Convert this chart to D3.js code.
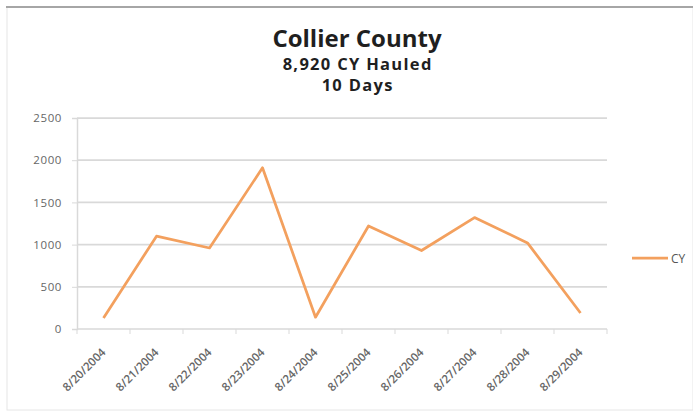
<!DOCTYPE html>
<html>
<head>
<meta charset="utf-8">
<script src="https://cdn.jsdelivr.net/npm/d3@7"></script>
<style>
  html, body { margin: 0; padding: 0; background: #fff; }
  svg { display: block; }
</style>
</head>
<body>
<svg id="chart" width="693" height="412"></svg>
<script>
const categories = ["8/20/2004","8/21/2004","8/22/2004","8/23/2004","8/24/2004","8/25/2004","8/26/2004","8/27/2004","8/28/2004","8/29/2004"];
const cyValues = [130, 1100, 960, 1910, 140, 1220, 930, 1320, 1020, 190];
const yTicks = [0, 500, 1000, 1500, 2000, 2500];
const titleLines = ["Collier County", "8,920 CY Hauled", "10 Days"];
const seriesName = "CY";

const svg = d3.select("#chart");
const W = 693, H = 412;
const margin = { left: 77, right: 86, top: 118, bottom: 83 };
const plotW = W - margin.left - margin.right;
const plotH = H - margin.top - margin.bottom;

// chart frame
svg.append("rect").attr("x", 7).attr("y", 7).attr("width", W - 7).attr("height", H - 9)
  .attr("fill", "#fff").attr("stroke", "#e6e6e6").attr("stroke-width", 1);
svg.append("line").attr("x1", 6).attr("x2", W).attr("y1", 7).attr("y2", 7)
  .attr("stroke", "#a6a6a6").attr("stroke-width", 2);

// titles
const font = "'Open Sans', 'DejaVu Sans', sans-serif";
const tSizes = [24, 16.5, 16.5];
const tSpacing = [0, 1.3, 1.3];
const tY = [47, 70, 91];
titleLines.forEach((t, i) => {
  svg.append("text").attr("x", 357 + tSpacing[i] / 2).attr("y", tY[i]).attr("text-anchor", "middle")
    .attr("font-family", font).attr("font-weight", "bold").attr("font-size", tSizes[i])
    .attr("letter-spacing", tSpacing[i])
    .attr("fill", "#1f1f1f").text(t);
});

const g = svg.append("g").attr("transform", `translate(${margin.left},${margin.top})`);

const x = d3.scaleBand().domain(categories).range([0, plotW]);
const y = d3.scaleLinear().domain([0, 2500]).range([plotH, 0]);

// gridlines
g.append("g").selectAll("line").data(yTicks.filter(d => d > 0)).join("line")
  .attr("x1", 0).attr("x2", plotW)
  .attr("y1", d => y(d)).attr("y2", d => y(d))
  .attr("stroke", "#d9d9d9").attr("stroke-width", 1.75);

// y axis
const yAxis = g.append("g").call(d3.axisLeft(y).tickValues(yTicks).tickFormat(d3.format("d")).tickSize(5).tickPadding(10));
yAxis.select(".domain").attr("stroke", "#d9d9d9").attr("stroke-width", 1.5);
yAxis.selectAll(".tick line").attr("stroke", "#d9d9d9");
yAxis.selectAll("text").attr("font-family", font).attr("font-size", 11.5)
  .attr("letter-spacing", 0.6).attr("fill", "#666");

// x axis with ticks at category boundaries
const xAxisG = g.append("g").attr("transform", `translate(0,${plotH})`);
xAxisG.append("line").attr("x1", 0).attr("x2", plotW).attr("y1", 0).attr("y2", 0)
  .attr("stroke", "#d9d9d9").attr("stroke-width", 1.5);
const bounds = categories.map(c => x(c)).concat([plotW]);
xAxisG.selectAll("line.tk").data(bounds).join("line").attr("class", "tk")
  .attr("x1", d => d).attr("x2", d => d).attr("y1", 0).attr("y2", 5)
  .attr("stroke", "#d9d9d9");
xAxisG.selectAll("text").data(categories).join("text")
  .attr("transform", d => `translate(${x(d) + x.bandwidth() / 2 + 3},${24}) rotate(-45)`)
  .attr("text-anchor", "end")
  .attr("font-family", font).attr("font-size", 11.5).attr("font-weight", 600).attr("fill", "#666")
  .text(d => d);

// line
const line = d3.line().x((d, i) => x(categories[i]) + x.bandwidth() / 2).y(d => y(d));
g.append("path").datum(cyValues).attr("d", line)
  .attr("fill", "none").attr("stroke", "#f3a05e").attr("stroke-width", 2.75)
  .attr("stroke-linejoin", "round");

// legend
svg.append("line").attr("x1", 632).attr("x2", 668).attr("y1", 258).attr("y2", 258)
  .attr("stroke", "#f3a05e").attr("stroke-width", 2.75);
svg.append("text").attr("x", 671).attr("y", 262.5).attr("font-family", font)
  .attr("font-size", 12).attr("fill", "#555").text(seriesName);
</script>
</body>
</html>
